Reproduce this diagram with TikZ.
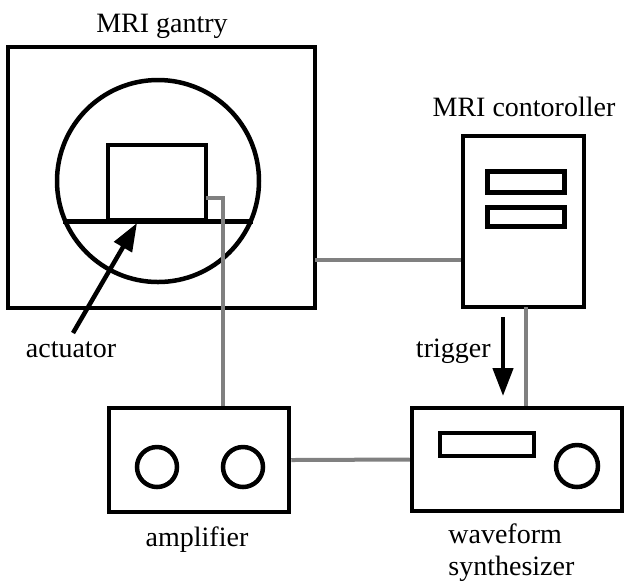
\documentclass[tikz,border=0pt]{standalone}
\usepackage{fontspec}
\setmainfont{Liberation Serif}
\usetikzlibrary{arrows.meta,calc}
\begin{document}
\begin{tikzpicture}[x=0.5pt,y=-0.5pt,
  box/.style={draw=black,line width=2.25pt,rectangle,inner sep=0pt,fill=white},
  knob/.style={draw=black,line width=2.25pt,circle,inner sep=0pt,minimum size=20pt},
  wire/.style={draw=gray,line width=2pt},
  lbl/.style={inner sep=0pt,font=\fontsize{14pt}{16pt}\selectfont},
  bigarrow/.style={draw=black,line width=2.25pt,-{Triangle[length=14pt,width=10pt]}}]
\useasboundingbox (0,0) rectangle (626,586);
% MRI gantry
\node[box,minimum width=153.5pt,minimum height=130.5pt] (gantry) at (161.5,177.5) {};
\node[draw=black,line width=2.25pt,circle,inner sep=0pt,minimum size=101pt] (bore) at (158,181) {};
\draw[line width=2.25pt] (bore.203.3) -- (bore.-23.3);
\node[box,minimum width=49pt,minimum height=37.5pt] (act) at (157,182.5) {};
\node[lbl,anchor=base] (gantrylbl) at (162,32) {MRI gantry};
% actuator label and arrow
\node[lbl,anchor=base] (actlbl) at (71,357) {actuator};
\coordinate (acttip) at (137,223);
\coordinate (acttail) at (73,333);
\draw[bigarrow] (acttail) -- (acttip);
% MRI controller
\node[box,minimum width=60.5pt,minimum height=85.5pt] (ctrl) at (523.5,221.5) {};
\node[box,minimum width=38.5pt,minimum height=10.5pt] (disp1) at (526,182) {};
\node[box,minimum width=38.5pt,minimum height=9.5pt] (disp2) at (526,217) {};
\node[lbl,anchor=base] (ctrllbl) at (524,116) {MRI contoroller};
% amplifier
\node[box,minimum width=90pt,minimum height=52pt] (amp) at (199,460) {};
\node[knob] (ampk1) at (157,467) {};
\node[knob] (ampk2) at (243,467) {};
\node[lbl,anchor=base] (amplbl) at (197,546) {amplifier};
% waveform synthesizer
\node[box,minimum width=105pt,minimum height=51.5pt] (synth) at (517,459.5) {};
\node[box,minimum width=47pt,minimum height=11.5pt] (sdisp) at (487,444.5) {};
\node[knob,minimum size=21pt] (sknob) at (577,466) {};
\node[lbl,anchor=north west,align=left] (synthlbl) at (448,523) {waveform\\synthesizer};
% wires
\coordinate (aw0) at (206,198);
\coordinate (aw1) at (223,198);
\draw[wire] (aw0) -- (aw1) -- (aw1 |- amp.north);
\coordinate (gw) at (315,260);
\draw[wire] (gw) -- (gw -| ctrl.west);
\draw[wire] (amp.east) -- (synth.west);
\coordinate (cw) at (526,307);
\draw[wire] (cw) -- (cw |- synth.north);
% trigger
\coordinate (t1) at (503,317);
\coordinate (t2) at (503,396);
\draw[bigarrow] (t1) -- (t2);
\node[lbl,anchor=base east] (triglbl) at (491,357) {trigger};
\end{tikzpicture}
\end{document}
